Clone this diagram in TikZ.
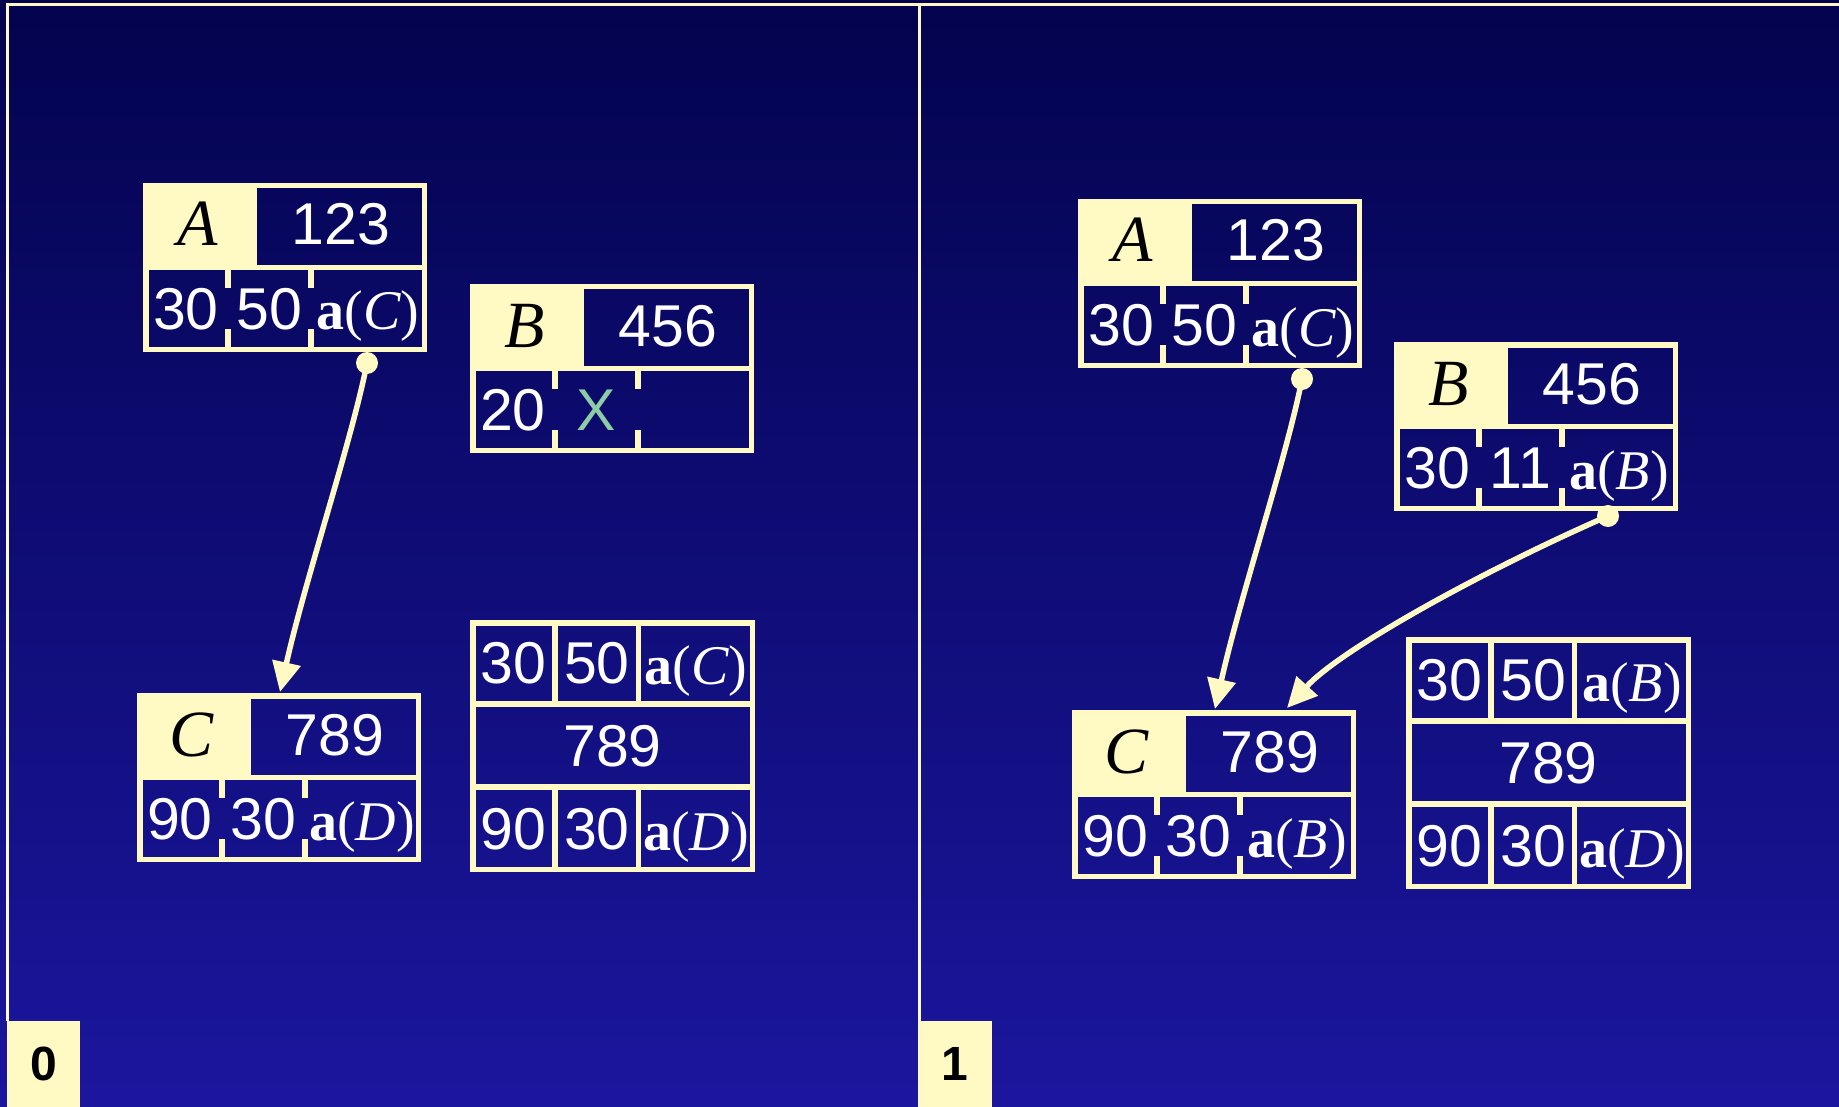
\documentclass[tikz,border=0pt]{standalone}
\usepackage{fontspec}
\usetikzlibrary{arrows.meta}
\newfontfamily\mySans{Liberation Sans}
\newfontfamily\mySerif{Liberation Serif}
\definecolor{bgtop}{RGB}{3,3,78}
\definecolor{bgbot}{RGB}{27,22,158}
\definecolor{ylw}{RGB}{255,250,195}
\definecolor{xgreen}{RGB}{140,205,165}
\newcommand\myNumFont{\mySans\fontsize{59}{60}\selectfont}
\newcommand\mySerFont{\mySerif\fontsize{56}{60}\selectfont}
\newcommand\myLetFont{\mySerif\fontsize{66}{70}\selectfont}
\newcommand\myLabFont{\mySans\bfseries\fontsize{48}{50}\selectfont}
\tikzset{
  ybox/.style={draw=ylw, line width=5.5pt},
  ytick/.style={draw=ylw, line width=5.5pt},
  numtxt/.style={text=white, font=\myNumFont, anchor=base, inner sep=0pt},
  sertxt/.style={text=white, font=\mySerFont, anchor=base, inner sep=0pt},
  hdrtxt/.style={text=black, font=\myLetFont, anchor=base, inner sep=0pt},
  frameline/.style={draw=ylw, line width=3pt},
  labbox/.style={fill=ylw, text=black, font=\myLabFont, inner sep=0pt, minimum height=86pt},
  conn/.style={draw=ylw, line width=5.5pt, -{Triangle[length=30pt,width=28pt]}},
  dotend/.style={fill=ylw},
}
% record: name, x, y, letter, number, c1, c2, c3
\newcommand\recbox[8]{%
  \begin{scope}[shift={(#2,#3)}]
    \fill[ylw] (0,0) rectangle (114,84.5);
    \draw[ybox] (2.75,2.75) rectangle (281.25,166.25);
    \draw[ybox] (0,84.5) -- (284,84.5);
    \draw[ytick] (85,86) -- (85,105) (85,146) -- (85,167);
    \draw[ytick] (168,86) -- (168,105) (168,146) -- (168,167);
    \node[hdrtxt] (#1-l) at (55,63) {\textit{#4}};
    \node[numtxt] (#1-n) at (198,62) {#5};
    \node[numtxt] (#1-a) at (43,146) {#6};
    \node[numtxt] (#1-b) at (126.5,146) {#7};
    \node[sertxt] (#1-c) at (225,147) {#8};
  \end{scope}}
% table: name, x, y, r1c1, r1c2, r1c3 (serif), mid, r3c1, r3c3
\newcommand\tabbox[9]{%
  \begin{scope}[shift={(#2,#3)}]
    \draw[ybox] (2.75,2.75) rectangle (282.25,249.25);
    \draw[ybox] (0,84) -- (285,84) (0,167) -- (285,167);
    \draw[ybox] (85,0) -- (85,84) (168.5,0) -- (168.5,84);
    \draw[ybox] (85,167) -- (85,252) (168.5,167) -- (168.5,252);
    \node[numtxt] (#1-a) at (43.5,63) {#4};
    \node[numtxt] (#1-b) at (127,63) {#5};
    \node[sertxt] (#1-c) at (226,64) {#6};
    \node[numtxt] (#1-m) at (142.5,146) {#7};
    \node[numtxt] (#1-d) at (43.5,229) {#8};
    \node[numtxt] (#1-e) at (127,229) {30};
    \node[sertxt] (#1-f) at (226,230) {#9};
  \end{scope}}
\begin{document}
\begin{tikzpicture}[x=1pt,y=-1pt]
\useasboundingbox (0,0) rectangle (1839,1107);
\shade[top color=bgtop, bottom color=bgbot] (0,0) rectangle (1839,1107);
% frame
\draw[frameline] (7,1021) -- (7,5) -- (1839,5);
\draw[frameline] (919.5,5) -- (919.5,1021);
\node[labbox, minimum width=73pt] (lab0) at (43.5,1064) {0};
\node[labbox, minimum width=74pt] (lab1) at (955,1064) {1};
% left panel
\recbox{LA}{143}{183}{A}{123}{30}{50}{\textbf{a}(\textit{C})}
\recbox{LB}{470}{284}{B}{456}{20}{\textcolor{xgreen}{X}}{}
\recbox{LC}{137}{693}{C}{789}{90}{30}{\textbf{a}(\textit{D})}
\tabbox{LT}{470}{620}{30}{50}{\textbf{a}(\textit{C})}{789}{90}{\textbf{a}(\textit{D})}
% right panel
\recbox{RA}{1078}{199}{A}{123}{30}{50}{\textbf{a}(\textit{C})}
\recbox{RB}{1394}{342}{B}{456}{30}{11}{\textbf{a}(\textit{B})}
\recbox{RC}{1072}{710}{C}{789}{90}{30}{\textbf{a}(\textit{B})}
\tabbox{RT}{1406}{637}{30}{50}{\textbf{a}(\textit{B})}{789}{90}{\textbf{a}(\textit{D})}
% connectors
\coordinate (LAdot) at (367,363);
\coordinate (LCtip) at (280,692);
\coordinate (RAdot) at (1302,379);
\coordinate (RCtipA) at (1215,709);
\coordinate (RBdot) at (1608,516);
\coordinate (RCtipB) at (1287,708);
\draw[conn] (LAdot) .. controls (352,440) and (305,580) .. (LCtip);
\draw[conn] (RAdot) .. controls (1287,456) and (1240,597) .. (RCtipA);
\draw[conn] (RBdot) .. controls (1480,572) and (1340,650) .. (RCtipB);
\fill[dotend] (LAdot) circle (11pt);
\fill[dotend] (RAdot) circle (11pt);
\fill[dotend] (RBdot) circle (11pt);
\end{tikzpicture}
\end{document}
